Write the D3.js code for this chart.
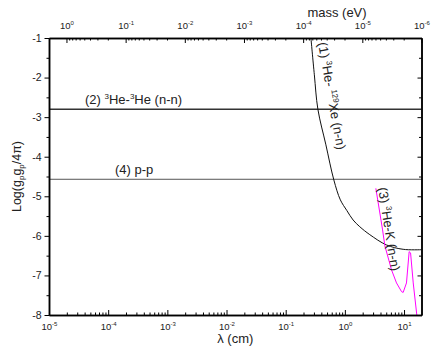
<!DOCTYPE html>
<html>
<head>
<meta charset="utf-8">
<script src="https://cdnjs.cloudflare.com/ajax/libs/d3/7.8.5/d3.min.js"></script>
<style>
    body { margin: 0; background: #fff; }
    svg { font-family: 'Liberation Sans', Arial, sans-serif; }
    .axis path, .axis line { stroke: #000; }
    .axis text { fill: #222; }
</style>
</head>
<body>
<svg width="436" height="356"></svg>
<script>
'use strict';

// hc in eV*cm, mass <-> wavelength
var hc = 1.97327e-5;

// tick values
var lambdaTicks = [1e-5, 1e-4, 1e-3, 1e-2, 1e-1, 1, 10];
var lambdaExps = ['-5', '-4', '-3', '-2', '-1', '0', '1'];
var massTicks = [1, 1e-1, 1e-2, 1e-3, 1e-4, 1e-5, 1e-6];
var massExps = ['0', '-1', '-2', '-3', '-4', '-5', '-6'];
var gTicks = [-1, -2, -3, -4, -5, -6, -7, -8];
var gMinorTicks = [-1.5, -2.5, -3.5, -4.5, -5.5, -6.5, -7.5];

// (1) 3He-129Xe (n-n)
var xeLambda = [0.267, 0.305, 0.350, 0.478, 0.652, 0.839, 1.08, 1.38, 1.79, 2.64, 5.06, 9.66, 19.7];
var xeLog = [-1.0, -1.93, -2.80, -3.70, -4.59, -5.09, -5.36, -5.60, -5.77, -5.97, -6.23, -6.34, -6.35];

// (3) 3He-K (n-n)
var kLambda = [3.34, 4.34, 4.74, 6.15, 7.46, 9.08, 9.66, 11.0, 12.2, 12.9, 14.3, 16.3, 16.6];
var kLog = [-4.80, -5.85, -6.25, -6.86, -7.19, -7.41, -7.43, -7.19, -6.40, -6.43, -7.19, -7.95, -8.05];

// (2) 3He-3He (n-n), (4) p-p
var heHeLog = -2.8;
var ppLog = -4.57;

// 绘图区
var plotLeft = 49, plotRight = 421.5, plotTop = 38, plotBottom = 315;

var svg = d3.select('svg');

var x = d3.scaleLog().domain([1e-5, hc / 1e-6]).range([plotLeft, plotRight]);
var y = d3.scaleLinear().domain([-1, -8]).range([plotTop, plotBottom]);

// mass axis goes through the same pixels
var xMass = d3.scaleLog().domain([hc / 1e-5, 1e-6]).range([plotLeft, plotRight]);

function isDecade(v) {
    var l = Math.log10(v);
    return Math.abs(l - Math.round(l)) < 1e-6;
}

// "10" with a superscript exponent
function powerLabels(g, exps) {
    g.selectAll('.tick text').each(function (d, i) {
        var t = d3.select(this).text('');
        t.append('tspan').text('10').attr('font-size', 9.5);
        t.append('tspan').text(exps[i]).attr('font-size', 6).attr('dy', -4);
    });
}

svg.append('clipPath').attr('id', 'plot')
    .append('rect')
    .attr('x', plotLeft).attr('y', plotTop)
    .attr('width', plotRight - plotLeft).attr('height', plotBottom - plotTop);

// horizontal limits
svg.append('line')
    .attr('x1', plotLeft).attr('x2', plotRight)
    .attr('y1', y(heHeLog)).attr('y2', y(heHeLog))
    .attr('stroke', '#333').attr('stroke-width', 1.3);

svg.append('line')
    .attr('x1', plotLeft).attr('x2', plotRight)
    .attr('y1', y(ppLog)).attr('y2', y(ppLog))
    .attr('stroke', '#555').attr('stroke-width', 1);

var line = d3.line()
    .x(function (d) { return x(d[0]); })
    .y(function (d) { return y(d[1]); })
    .curve(d3.curveCatmullRom.alpha(0.5));

var plot = svg.append('g').attr('clip-path', 'url(#plot)');

plot.append('path')
    .datum(d3.zip(xeLambda, xeLog))
    .attr('d', line)
    .attr('fill', 'none')
    .attr('stroke', '#111')
    .attr('stroke-width', 1);

plot.append('path')
    .datum(d3.zip(kLambda, kLog))
    .attr('d', d3.line().x(function (d) { return x(d[0]); }).y(function (d) { return y(d[1]); }))
    .attr('fill', 'none')
    .attr('stroke', '#ff00ff')
    .attr('stroke-width', 1);

// bottom axis, ticks inward
var xMinor = x.ticks().filter(function (d) { return !isDecade(d); });
svg.append('g').attr('class', 'axis')
    .attr('transform', 'translate(0,' + plotBottom + ')')
    .call(d3.axisBottom(x).tickValues(xMinor).tickSize(-2.5).tickSizeOuter(0).tickFormat(''));
svg.append('g').attr('class', 'axis')
    .attr('transform', 'translate(0,' + plotBottom + ')')
    .call(d3.axisBottom(x).tickValues(lambdaTicks).tickSize(-5).tickSizeOuter(0).tickPadding(8))
    .call(powerLabels, lambdaExps);

// top axis (mass)
var massMinor = [];
massTicks.slice(1).forEach(function (m) {
    d3.range(2, 10).forEach(function (k) { massMinor.push(m * k); });
});
svg.append('g').attr('class', 'axis')
    .attr('transform', 'translate(0,' + plotTop + ')')
    .call(d3.axisTop(xMass).tickValues(massMinor).tickSize(-2.5).tickSizeOuter(0).tickFormat(''));
svg.append('g').attr('class', 'axis')
    .attr('transform', 'translate(0,' + plotTop + ')')
    .call(d3.axisTop(xMass).tickValues(massTicks).tickSize(-5).tickSizeOuter(0).tickPadding(9))
    .call(powerLabels, massExps);

// left axis, ticks outward
svg.append('g').attr('class', 'axis')
    .attr('transform', 'translate(' + plotLeft + ',0)')
    .call(d3.axisLeft(y).tickValues(gMinorTicks).tickSize(2.5).tickSizeOuter(0).tickFormat(''));
svg.append('g').attr('class', 'axis')
    .attr('transform', 'translate(' + plotLeft + ',0)')
    .call(d3.axisLeft(y).tickValues(gTicks).tickSize(4.5).tickSizeOuter(0).tickPadding(3)
        .tickFormat(function (d) { return String(d); }))
    .selectAll('text').attr('font-size', 10.5);

// right axis, ticks inward
svg.append('g').attr('class', 'axis')
    .attr('transform', 'translate(' + plotRight + ',0)')
    .call(d3.axisRight(y).tickValues(gMinorTicks).tickSize(-2.5).tickSizeOuter(0).tickFormat(''));
svg.append('g').attr('class', 'axis')
    .attr('transform', 'translate(' + plotRight + ',0)')
    .call(d3.axisRight(y).tickValues(gTicks).tickSize(-4).tickSizeOuter(0).tickFormat(''));

svg.selectAll('.axis path.domain').attr('stroke-width', 1.5);

// axis titles
svg.append('text')
    .attr('x', (plotLeft + plotRight) / 2).attr('y', 343)
    .attr('text-anchor', 'middle').attr('font-size', 13).attr('fill', '#222')
    .text('λ (cm)');

svg.append('text')
    .attr('x', 337).attr('y', 17)
    .attr('text-anchor', 'middle').attr('font-size', 13).attr('fill', '#222')
    .text('mass (eV)');

var yTitle = svg.append('text')
    .attr('transform', 'translate(21,' + (plotTop + plotBottom) / 2 + ') rotate(-90)')
    .attr('text-anchor', 'middle').attr('font-size', 12.5).attr('fill', '#222');
yTitle.append('tspan').text('Log(g');
yTitle.append('tspan').text('p').attr('font-size', 8).attr('dy', 3);
yTitle.append('tspan').text('g').attr('dy', -3);
yTitle.append('tspan').text('p').attr('font-size', 8).attr('dy', 3);
yTitle.append('tspan').text('/4π)').attr('dy', -3);

// curve labels
function label(x0, y0, angle, parts) {
    var t = svg.append('text')
        .attr('transform', 'translate(' + x0 + ',' + y0 + ') rotate(' + angle + ')')
        .attr('font-size', 13).attr('fill', '#222');
    parts.forEach(function (p) {
        if (p[1]) {
            t.append('tspan').text(p[0]).attr('font-size', 8).attr('dy', -5);
        } else {
            t.append('tspan').text(p[0]).attr('dy', p[2] || 0);
        }
    });
}

label(85, 104, 0, [['(2) '], ['3', 1], ['He-', 0, 5], ['3', 1], ['He (n-n)', 0, 5]]);
label(115, 174, 0, [['(4) p-p']]);
label(318, 43, 80, [['(1) '], ['3', 1], ['He- ', 0, 5], ['129', 1], ['Xe (n-n)', 0, 5]]);
label(378, 188, 81, [['(3) '], ['3', 1], ['He-K (n-n)', 0, 5]]);
</script>
</body>
</html>
